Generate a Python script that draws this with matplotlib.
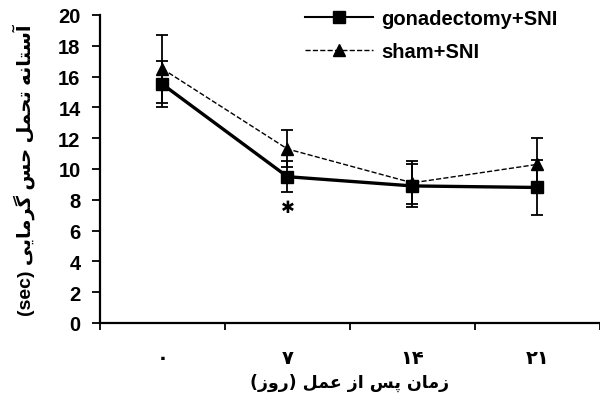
import numpy as np
import matplotlib.pyplot as plt
from matplotlib.lines import Line2D

plt.rcParams['font.family'] = ['Liberation Sans', 'DejaVu Sans']

## data
days = ['۰', '۷', '۱۴', '۲۱']
gonad = [15.5, 9.5, 8.9, 8.8]
gonad_err = [1.5, 1.0, 1.4, 1.8]
sham = [16.5, 11.3, 9.1, 10.3]
sham_err = [2.2, 1.2, 1.4, 1.7]

## minimal persian shaping (matplotlib has no bidi / joining)
FORMS = {
    'ا': ('\uFE8D', '\uFE8E'), 'آ': ('\uFE81', '\uFE82'),
    'ر': ('\uFEAD', '\uFEAE'), 'ز': ('\uFEAF', '\uFEB0'),
    'و': ('\uFEED', '\uFEEE'),
    'ت': ('\uFE95', '\uFE96', '\uFE97', '\uFE98'),
    'ح': ('\uFEA1', '\uFEA2', '\uFEA3', '\uFEA4'),
    'س': ('\uFEB1', '\uFEB2', '\uFEB3', '\uFEB4'),
    'ع': ('\uFEC9', '\uFECA', '\uFECB', '\uFECC'),
    'ل': ('\uFEDD', '\uFEDE', '\uFEDF', '\uFEE0'),
    'م': ('\uFEE1', '\uFEE2', '\uFEE3', '\uFEE4'),
    'ن': ('\uFEE5', '\uFEE6', '\uFEE7', '\uFEE8'),
    'ه': ('\uFEE9', '\uFEEA', '\uFEEB', '\uFEEC'),
    'پ': ('\uFB56', '\uFB57', '\uFB58', '\uFB59'),
    'گ': ('\uFB92', '\uFB93', '\uFB94', '\uFB95'),
    'ی': ('\uFBFC', '\uFBFD', '\uFBFE', '\uFBFF'),
}

def shape(text):
    out = []
    for i, ch in enumerate(text):
        if ch not in FORMS:
            out.append(ch)
            continue
        prev = text[i - 1] if i > 0 else ''
        nxt = text[i + 1] if i + 1 < len(text) else ''
        join_prev = prev in FORMS and len(FORMS[prev]) == 4
        join_next = len(FORMS[ch]) == 4 and nxt in FORMS
        f = FORMS[ch]
        if join_prev and join_next:
            out.append(f[3])
        elif join_prev:
            out.append(f[1])
        elif join_next:
            out.append(f[2])
        else:
            out.append(f[0])
    s = ''.join(out)[::-1]
    return s.translate(str.maketrans('()', ')('))

xlabel = shape('زمان پس از عمل (روز)')
ylabel = '(sec) ' + shape('آستانه تحمل حس گرمایی')

fig = plt.figure(figsize=(6.0, 4.06), dpi=100)
ax = fig.add_axes([0.1667, 0.202, 0.833, 0.7586])

x = np.arange(len(days)) + 0.5
ax.errorbar(x, sham, yerr=sham_err, color='black', linestyle='--', linewidth=1,
            marker='^', markersize=9, elinewidth=1.3, capsize=4.5, capthick=1.3,
            zorder=3)
ax.errorbar(x, gonad, yerr=gonad_err, color='black', linestyle='-', linewidth=2.4,
            marker='s', markersize=9, elinewidth=1.3, capsize=4.5, capthick=1.3,
            zorder=4)

## significance mark under day 7
ax.text(x[1], gonad[1] - gonad_err[1] - 0.95, '✱', ha='center', va='center',
        fontsize=12, family=['DejaVu Sans'])

ax.set_xlim(0, 4)
ax.set_ylim(0, 20)
ax.set_yticks(np.arange(0, 21, 2))
ax.set_xticks(x)
ax.set_xticklabels(days, fontsize=14, fontweight='bold', family=['DejaVu Sans'])
ax.set_xticks([0, 1, 2, 3, 4], minor=True)
ax.tick_params(axis='x', which='major', length=0, pad=18)
ax.tick_params(axis='x', which='minor', length=5, width=1.3, direction='out')
ax.tick_params(axis='y', length=6, width=1.3, direction='out', labelsize=14.5, pad=8)
for lbl in ax.get_yticklabels():
    lbl.set_fontweight('bold')

ax.spines['top'].set_visible(False)
ax.spines['right'].set_visible(False)
ax.spines['left'].set_linewidth(1.6)
ax.spines['bottom'].set_linewidth(1.6)

ax.set_xlabel(xlabel, fontsize=12.5, fontweight='bold', family=['DejaVu Sans'])
ax.xaxis.set_label_coords(0.5, -0.163)
ax.set_ylabel(ylabel, fontsize=14, fontweight='bold', family=['Liberation Sans', 'DejaVu Sans'])
ax.yaxis.set_label_coords(-0.13, 0.5)

handles = [Line2D([], [], color='black', linestyle='-', linewidth=1.5, marker='s', markersize=8.5),
           Line2D([], [], color='black', linestyle='--', linewidth=1, marker='^', markersize=8)]
ax.legend(handles, ['gonadectomy+SNI', 'sham+SNI'], loc='upper left',
          bbox_to_anchor=(305 / 600, 1 - 10 / 406), bbox_transform=fig.transFigure,
          frameon=False, prop={'weight': 'bold', 'size': 14.5}, handlelength=3.4,
          handletextpad=0.4, labelspacing=0.7, borderpad=0, borderaxespad=0)

fig.savefig('out.png', dpi=100)
